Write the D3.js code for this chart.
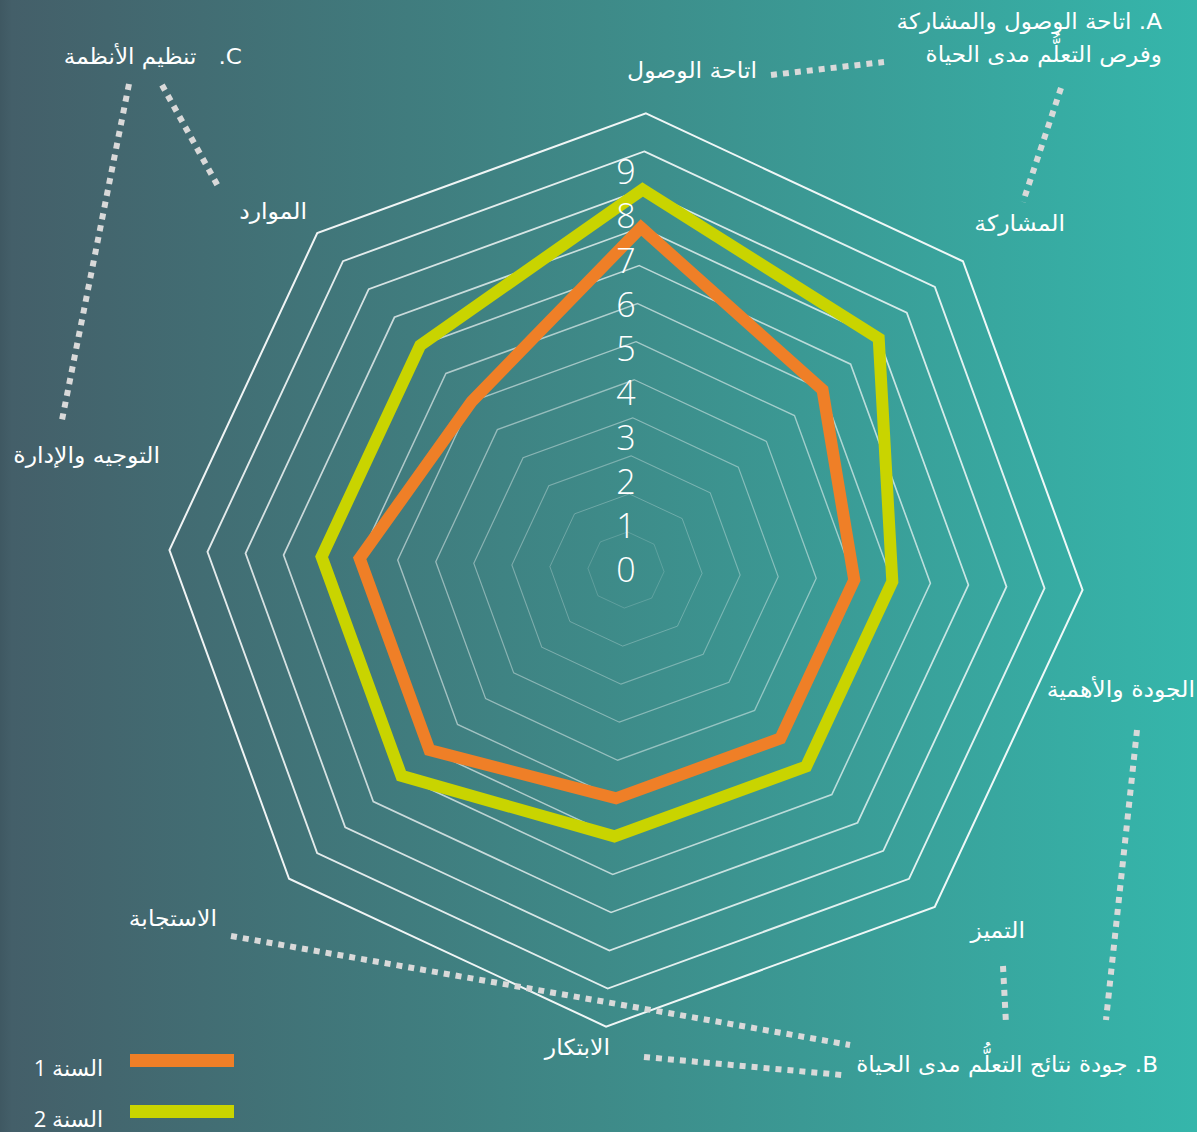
<!DOCTYPE html>
<html>
<head>
<meta charset="utf-8">
<script src="https://cdn.jsdelivr.net/npm/d3@7"></script>
<style>
  html, body { margin: 0; padding: 0; overflow: hidden; }
  svg { display: block; }
</style>
</head>
<body>
<div id="chart"></div>
<script>
// data
const categories = [
  'اتاحة الوصول',
  'المشاركة',
  'الجودة والأهمية',
  'التميز',
  'الابتكار',
  'الاستجابة',
  'التوجيه والإدارة',
  'الموارد'
];
const year1 = [9, 7, 6, 6, 6, 7, 7, 6];
const year2 = [10, 9, 7, 7, 7, 8, 8, 8];
const seriesNames = ['السنة 1', 'السنة 2'];
const tickLabels = [0, 1, 2, 3, 4, 5, 6, 7, 8, 9];
const gridLevels = d3.range(1, 13);
const groupTitles = [
  ['A. اتاحة الوصول والمشاركة', 'وفرص التعلُّم مدى الحياة'],
  ['B. جودة نتائج التعلُّم مدى الحياة'],
  ['C.   تنظيم الأنظمة']
];

// layout
const width = 1197;
const height = 1132;
const center = { x: 626, y: 570 };
const rotation = (2.5 * Math.PI) / 180;
const colors = ['#ef7f27', '#c9d400'];
const arabicFont = '"DejaVu Sans", "Liberation Sans", sans-serif';

// where each category label sits (right edge, baseline)
const labelPos = [
  [757, 78], [1065, 231], [1195, 697], [1025, 938],
  [610, 1055], [217, 926], [160, 463], [307, 219]
];
const titlePos = [[1162, 29, 33], [1158, 1072, 0], [242, 64, 0]];
// dotted leaders between labels and group titles
const leaders = [
  [[771, 75], [884, 62]],
  [[1061, 88], [1023, 202]],
  [[1137, 730], [1106, 1020]],
  [[1003, 966], [1006, 1024]],
  [[644, 1057], [842, 1075]],
  [[231, 936], [850, 1045]],
  [[129, 84], [62, 420]],
  [[162, 85], [219, 188]]
];

const svg = d3
  .select('#chart')
  .append('svg')
  .attr('width', width)
  .attr('height', height);

const defs = svg.append('defs');
const grad = defs
  .append('linearGradient')
  .attr('id', 'bg')
  .attr('x1', 0)
  .attr('x2', 1)
  .attr('y1', 0)
  .attr('y2', 0);
grad.append('stop').attr('offset', 0).attr('stop-color', '#3f5862');
grad.append('stop').attr('offset', 0.01).attr('stop-color', '#445f69');
grad.append('stop').attr('offset', 0.5).attr('stop-color', '#3e8a88');
grad.append('stop').attr('offset', 1).attr('stop-color', '#35b6ab');

svg
  .append('rect')
  .attr('width', width)
  .attr('height', height)
  .attr('fill', 'url(#bg)');

const r = d3.scaleLinear().domain([0, 12]).range([0, 457]);
const tickY = d3.scaleLinear().domain([0, 9]).range([0, 398]);
const angle = (i) => rotation + (i * 2 * Math.PI) / categories.length;

const plot = svg
  .append('g')
  .attr('transform', `translate(${center.x}, ${center.y})`);

const ringLine = d3
  .lineRadial()
  .angle((d, i) => angle(i))
  .radius((d) => r(d))
  .curve(d3.curveLinearClosed);

// grid octagons, fainter toward the middle
plot
  .append('g')
  .attr('class', 'grid')
  .selectAll('path')
  .data(gridLevels)
  .join('path')
  .attr('d', (lvl) => ringLine(categories.map(() => lvl)))
  .attr('fill', 'none')
  .attr('stroke', '#ffffff')
  .attr('stroke-opacity', (lvl) => 0.12 + 0.8 * (lvl / 12))
  .attr('stroke-width', (lvl) => 0.8 + lvl / 10);

// series
plot
  .append('g')
  .attr('class', 'series')
  .selectAll('path')
  .data([year1, year2])
  .join('path')
  .attr('d', (d) => ringLine(d))
  .attr('fill', 'none')
  .attr('stroke', (d, i) => colors[i])
  .attr('stroke-width', 12)
  .attr('stroke-linejoin', 'miter');

// value labels up the middle
plot
  .append('g')
  .attr('class', 'ticks')
  .selectAll('text')
  .data(tickLabels)
  .join('text')
  .attr('x', 0)
  .attr('y', (d) => -tickY(d))
  .attr('dy', '0.36em')
  .attr('text-anchor', 'middle')
  .attr('fill', '#ffffff')
  .style('font-family', '"Open Sans", "Segoe UI", sans-serif')
  .style('font-weight', 300)
  .style('font-size', '34px')
  .text((d) => d);

// dotted leaders
svg
  .append('g')
  .attr('class', 'leaders')
  .selectAll('line')
  .data(leaders)
  .join('line')
  .attr('x1', (d) => d[0][0])
  .attr('y1', (d) => d[0][1])
  .attr('x2', (d) => d[1][0])
  .attr('y2', (d) => d[1][1])
  .attr('stroke', '#d9d9d9')
  .attr('stroke-width', 6)
  .attr('stroke-dasharray', '6 6');

// category labels (DejaVu is narrower than the original face, so stretch a bit)
svg
  .append('g')
  .attr('class', 'cat-labels')
  .selectAll('text')
  .data(categories)
  .join('text')
  .attr('transform', (d, i) => `translate(${labelPos[i][0]}, ${labelPos[i][1]}) scale(1.07, 1)`)
  .attr('direction', 'rtl')
  .attr('text-anchor', 'start')
  .attr('fill', '#ffffff')
  .style('font-family', arabicFont)
  .style('font-size', '22px')
  .text((d) => d);

// group titles
const titles = svg
  .append('g')
  .attr('class', 'titles')
  .selectAll('text')
  .data(groupTitles)
  .join('text')
  .attr('transform', (d, i) => `translate(${titlePos[i][0]}, ${titlePos[i][1]}) scale(1.05, 1)`)
  .attr('direction', 'rtl')
  .attr('text-anchor', 'start')
  .attr('fill', '#ffffff')
  .style('white-space', 'pre')
  .style('font-family', arabicFont)
  .style('font-size', '22px');

titles
  .selectAll('tspan')
  .data((d, i) => d.map((t) => ({ t, dy: titlePos[i][2] })))
  .join('tspan')
  .attr('x', 0)
  .attr('dy', (d, j) => (j === 0 ? 0 : d.dy))
  .text((d) => d.t);

// legend
const legend = svg
  .append('g')
  .attr('class', 'legend')
  .selectAll('g')
  .data(seriesNames)
  .join('g')
  .attr('transform', (d, i) => `translate(0, ${1054 + i * 51})`);

legend
  .append('rect')
  .attr('x', 130)
  .attr('y', 0)
  .attr('width', 104)
  .attr('height', 13)
  .attr('fill', (d, i) => colors[i]);

legend
  .append('text')
  .attr('x', 103)
  .attr('y', 22)
  .attr('direction', 'rtl')
  .attr('text-anchor', 'start')
  .attr('fill', '#ffffff')
  .style('font-family', '"Open Sans", "DejaVu Sans", sans-serif')
  .style('font-size', '22px')
  .text((d) => d);
</script>
</body>
</html>
